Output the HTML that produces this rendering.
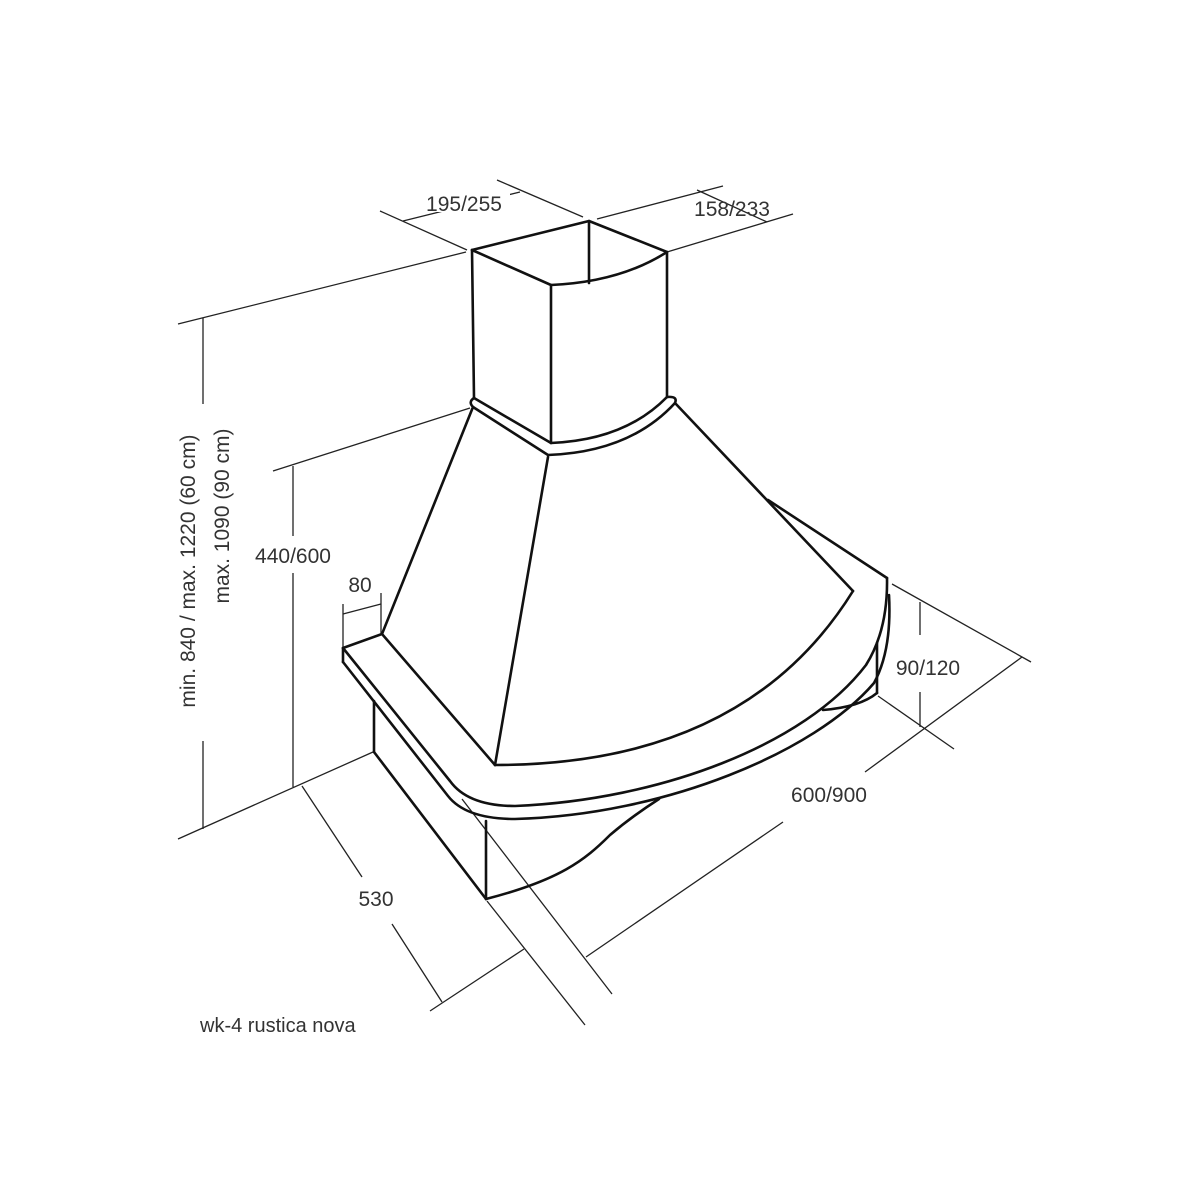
<!DOCTYPE html>
<html><head><meta charset="utf-8"><style>
html,body{margin:0;padding:0;background:#fff;width:1200px;height:1200px;overflow:hidden}
svg{display:block}
text{font-family:"Liberation Sans",sans-serif;fill:#333;font-size:21px}
</style></head><body>
<svg width="1200" height="1200" viewBox="0 0 1200 1200">
<g stroke="#222" stroke-width="1.3" fill="none">
<!-- wall lines -->
<line x1="178" y1="324" x2="466" y2="252"/>
<line x1="273" y1="471" x2="470" y2="408"/>
<line x1="178" y1="839" x2="373" y2="752"/>
<line x1="203" y1="318" x2="203" y2="404"/>
<line x1="203" y1="741" x2="203" y2="829"/>
<line x1="293" y1="466" x2="293" y2="536"/>
<line x1="293" y1="573" x2="293" y2="787"/>
<!-- 80 -->
<line x1="343" y1="604" x2="343" y2="648"/>
<line x1="381" y1="593" x2="381" y2="634"/>
<line x1="343" y1="614" x2="381" y2="604"/>
<!-- top dims -->
<line x1="380" y1="211" x2="467" y2="250"/>
<line x1="497" y1="180" x2="583" y2="217"/>
<line x1="403" y1="221" x2="520" y2="192"/>
<line x1="597" y1="219" x2="723" y2="186"/>
<line x1="667" y1="252" x2="793" y2="214"/>
<line x1="697" y1="190" x2="767" y2="222"/>
<!-- 530 -->
<line x1="302" y1="786" x2="362" y2="877"/>
<line x1="392" y1="924" x2="442" y2="1002"/>
<line x1="430" y1="1011" x2="524" y2="949"/>
<line x1="487" y1="901" x2="585" y2="1025"/>
<!-- 600/900 -->
<line x1="462" y1="799" x2="612" y2="994"/>
<line x1="586" y1="957" x2="783" y2="822"/>
<line x1="878" y1="696" x2="954" y2="749"/>
<line x1="865" y1="772" x2="1022" y2="657"/>
<line x1="892" y1="584" x2="1031" y2="662"/>
<line x1="920" y1="602" x2="920" y2="635"/>
<line x1="920" y1="692" x2="920" y2="727"/>
</g>
<g stroke="#111" stroke-width="2.6" fill="none" stroke-linejoin="round" stroke-linecap="round">
<!-- chimney -->
<path d="M472,250 L589,221 L667,252 L667,397"/>
<path d="M472,250 L551,285 L551,443"/>
<path d="M472,250 L474,398"/>
<path d="M551,285 Q620,282 667,252"/>
<line x1="589" y1="221" x2="589" y2="283"/>
<!-- collar -->
<path d="M474,398 L551,443 Q625,440 667,397"/>
<path d="M474,398 Q468,402 473,407 L548,455 Q630,452 675,403 Q678,396 667,397"/>
<!-- hood -->
<line x1="473" y1="407" x2="382" y2="634"/>
<line x1="548" y1="457" x2="495" y2="765"/>
<line x1="675" y1="403" x2="853" y2="591"/>
<path d="M768,500 L887,578"/>
<path d="M495,765 Q745,765 853,591"/>
<!-- band -->
<path d="M382,634 L495,765"/>
<path d="M343,648 L382,634"/>
<path d="M343,648 L343,662"/>
<path d="M343,648 L450,781 Q468,806 515,806 C660,800 805,745 866,665 Q888,630 887,578"/>
<path d="M343,662 L448,796 Q466,819 515,819 C665,815 815,752 874,683 Q892,650 889,595"/>
<!-- box -->
<line x1="374" y1="701" x2="374" y2="752"/>
<line x1="374" y1="752" x2="486" y2="899"/>
<line x1="486" y1="821" x2="486" y2="899"/>
<path d="M486,899 C560,880 585,860 610,835 C630,818 645,808 659,799"/>
<line x1="877" y1="643" x2="877" y2="693"/>
<path d="M877,693 Q860,707 823,710"/>
</g>
<g>
<rect x="418" y="190" width="92" height="22" fill="#fff"/>
<text x="464" y="211" text-anchor="middle">195/255</text>
<text x="732" y="216" text-anchor="middle">158/233</text>
<text x="293" y="563" text-anchor="middle">440/600</text>
<text x="360" y="592" text-anchor="middle">80</text>
<text x="928" y="675" text-anchor="middle">90/120</text>
<text x="829" y="802" text-anchor="middle">600/900</text>
<text x="376" y="906" text-anchor="middle">530</text>
<text transform="translate(195,571) rotate(-90)" text-anchor="middle">min. 840 / max. 1220 (60 cm)</text>
<text transform="translate(229,516) rotate(-90)" text-anchor="middle">max. 1090  (90 cm)</text>
<text x="200" y="1032" style="font-size:20px">wk-4 rustica nova</text>
</g>
</svg>
</body></html>
